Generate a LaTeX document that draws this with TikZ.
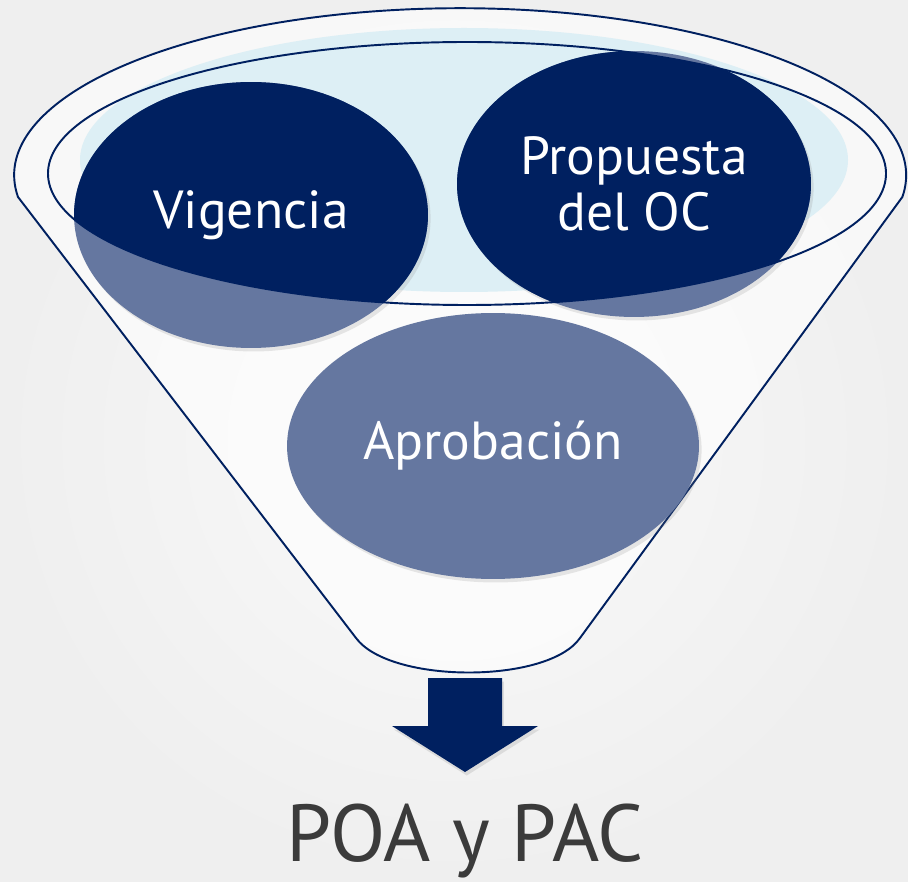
\documentclass[tikz,border=0pt]{standalone}
\usepackage{fontspec}
\setmainfont{PT Sans}
\usetikzlibrary{shapes.geometric,shadows}
\definecolor{navyDark}{HTML}{002060}
\definecolor{navyLight}{HTML}{6577A0}
\definecolor{glassBlue}{HTML}{DDEFF5}
\definecolor{textGray}{HTML}{3B3B3B}
\definecolor{bgEdge}{HTML}{EFEFEF}
\definecolor{bgMid}{HTML}{FAFAFA}

\begin{document}
\begin{tikzpicture}
	[ x=0.02cm, y=-0.02cm,
		stage/.style={ellipse,fill=navyLight,minimum width=7.08cm,minimum height=5.32cm,inner sep=0pt},
		stageShadow/.style={drop shadow={opacity=0.18,shadow xshift=1.5pt,shadow yshift=-2pt}},
		stageText/.style={text=white,font=\fontsize{30.5}{31.8}\selectfont,align=center},
		funnelLine/.style={draw=navyDark,line width=1.1pt,line join=round}]

	% background
	\shade[inner color=bgMid,outer color=bgEdge] (0,0) rectangle (908,881);
	\useasboundingbox (0,0) rectangle (908,881);

	% funnel body
	\draw[funnelLine,fill=white,fill opacity=0.6] (18,197) arc[start angle=172.5,end angle=367.5,x radius=446,y radius=167]
		-- (580,638) .. controls (548,684) and (390,684) .. (356,638) -- cycle;
	\fill[glassBlue] (464,160) ellipse[x radius=384,y radius=132];

	% stages
	\node[stage,stageShadow] (vigencia) at (251,215) {};
	\node[stage,stageShadow] (propuesta) at (634,184) {};
	\node[stage,stageShadow,minimum width=8.24cm] (aprobacion) at (493,446) {};

	\begin{scope}
		\clip (467,173.5) ellipse[x radius=419,y radius=131.5];
		\node[stage,fill=navyDark] at (vigencia) {};
		\node[stage,fill=navyDark] at (propuesta) {};
	\end{scope}
	\draw[funnelLine] (467,173.5) ellipse[x radius=419,y radius=131.5];

	\node[stageText] at (vigencia) {Vigencia};
	\node[stageText] at (propuesta) {Propuesta\\del OC};
	\node[stageText] at (aprobacion) {Aprobación};

	% output
	\fill[navyDark,drop shadow={opacity=0.2,shadow xshift=1pt,shadow yshift=-2pt}] (428,678) -- (502,678) -- (502,726)
		-- (538,726) -- (465,772) -- (392,726) -- (428,726) -- cycle;
	\node[text=textGray,font=\fontsize{46}{50}\selectfont,anchor=base] (output) at (465,861) {POA y PAC};
\end{tikzpicture}
\end{document}
